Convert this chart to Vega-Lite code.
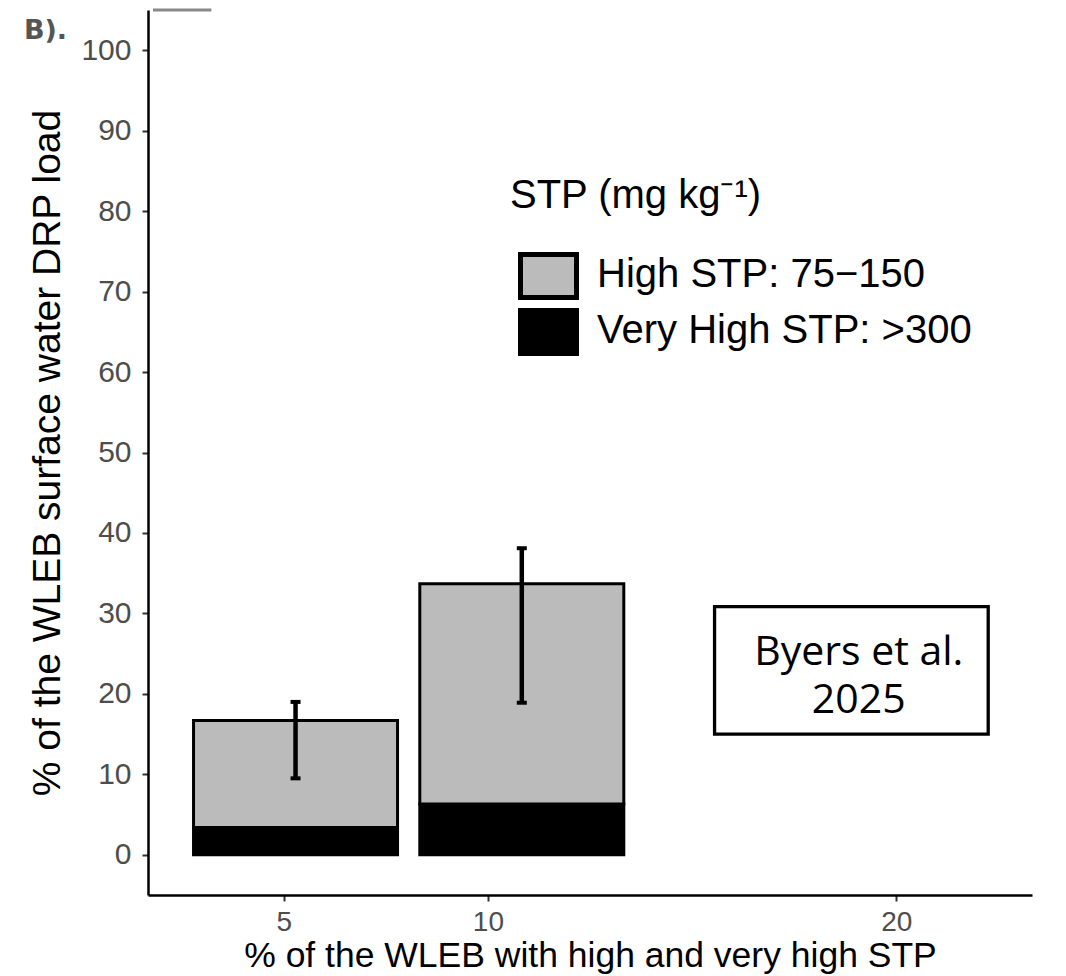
{
  "$schema": "https://vega.github.io/schema/vega-lite/v6.json",
  "width": 884,
  "height": 885,
  "autosize": {"type": "none"},
  "padding": {"left": 148, "top": 10, "right": 34, "bottom": 81},
  "background": "white",
  "config": {
    "view": {"stroke": null},
    "axis": {"grid": false, "domainColor": "black", "domainWidth": 2.5, "tickColor": "#333333", "tickWidth": 2, "tickSize": 6, "labelColor": "#4d4d4d", "labelFont": "Liberation Sans", "titleFont": "Liberation Sans", "titleColor": "black", "titleFontWeight": "normal"}
  },
  "datasets": {
    "bars": [
      {"pct": 5.29, "cls": "Very High STP: >300", "value": 3.4},
      {"pct": 5.29, "cls": "High STP: 75−150", "value": 13.3},
      {"pct": 10.83, "cls": "Very High STP: >300", "value": 6.3},
      {"pct": 10.83, "cls": "High STP: 75−150", "value": 27.4}
    ],
    "errs": [
      {"pct": 5.29, "lo": 9.5, "hi": 19.0},
      {"pct": 10.83, "lo": 18.9, "hi": 38.1}
    ],
    "box": [{"x1": 15.55, "x2": 22.25, "y1": 15.0, "y2": 30.85, "label": ["Byers et al.", "2025"], "tx": 19.08, "ty": 23.6}],
    "topline": [{"x1": 1.8, "x2": 3.23, "y": 105}],
    "panel": [{"t": "B).", "x": -1.36, "y": 101.4}]
  },
  "layer": [
    {
      "data": {"name": "bars"},
      "mark": {"type": "bar", "orient": "vertical", "size": 204, "stroke": "black", "strokeWidth": 3},
      "encoding": {
        "x": {"field": "pct", "type": "quantitative", "title": "% of the WLEB with high and very high STP", "scale": {"domain": [1.8, 23.2], "nice": false, "zero": false},
              "axis": {"values": [5, 10, 20], "title": "% of the WLEB with high and very high STP", "labelFontSize": 28, "titleFontSize": 35.5, "labelPadding": 7, "titlePadding": 2}},
        "y": {"field": "value", "type": "quantitative", "title": "% of the WLEB surface water DRP load", "stack": "zero", "scale": {"domain": [-5, 105], "nice": false, "zero": false},
              "axis": {"values": [0, 10, 20, 30, 40, 50, 60, 70, 80, 90, 100], "title": "% of the WLEB surface water DRP load", "labelFontSize": 30, "titleFontSize": 39, "labelPadding": 11, "titlePadding": 13}},
        "color": {"field": "cls", "type": "nominal",
                  "scale": {"domain": ["High STP: 75−150", "Very High STP: >300"], "range": ["#bbbbbb", "#000000"]},
                  "legend": {"orient": "none", "legendX": 362, "legendY": 166, "title": "STP (mg kg⁻¹)", "titleFontSize": 40, "titleFont": "Liberation Sans", "titleFontWeight": "normal", "titleColor": "black", "titlePadding": 36, "titleLimit": 1000,
                             "labelFontSize": 40, "labelFont": "Liberation Sans", "labelColor": "black", "labelLimit": 1000, "labelOffset": 42,
                             "symbolType": "M-0.6,-1H2.2V1.15H-0.6Z", "symbolSize": 1600, "symbolStrokeColor": "black", "symbolStrokeWidth": 5, "symbolOpacity": 1, "rowPadding": -20, "padding": 0}},
        "order": {"field": "cls", "sort": "descending"}
      }
    },
    {
      "data": {"name": "errs"},
      "mark": {"type": "rule", "color": "black", "strokeWidth": 4.5},
      "encoding": {
        "x": {"field": "pct", "type": "quantitative", "title": "% of the WLEB with high and very high STP"},
        "y": {"field": "lo", "type": "quantitative", "title": "% of the WLEB surface water DRP load"},
        "y2": {"field": "hi"}
      }
    },
    {
      "data": {"name": "errs"},
      "mark": {"type": "tick", "orient": "horizontal", "color": "black", "size": 10, "thickness": 4, "opacity": 1},
      "encoding": {
        "x": {"field": "pct", "type": "quantitative", "title": "% of the WLEB with high and very high STP"},
        "y": {"field": "lo", "type": "quantitative", "title": "% of the WLEB surface water DRP load"}
      }
    },
    {
      "data": {"name": "errs"},
      "mark": {"type": "tick", "orient": "horizontal", "color": "black", "size": 10, "thickness": 4, "opacity": 1},
      "encoding": {
        "x": {"field": "pct", "type": "quantitative", "title": "% of the WLEB with high and very high STP"},
        "y": {"field": "hi", "type": "quantitative", "title": "% of the WLEB surface water DRP load"}
      }
    },
    {
      "data": {"name": "box"},
      "mark": {"type": "rect", "fill": "white", "stroke": "black", "strokeWidth": 3.3},
      "encoding": {
        "x": {"field": "x1", "type": "quantitative", "title": "% of the WLEB with high and very high STP"},
        "x2": {"field": "x2"},
        "y": {"field": "y1", "type": "quantitative", "title": "% of the WLEB surface water DRP load"},
        "y2": {"field": "y2"}
      }
    },
    {
      "data": {"name": "box"},
      "mark": {"type": "text", "font": "Open Sans", "fontSize": 41, "align": "center", "baseline": "alphabetic", "lineHeight": 48, "color": "black"},
      "encoding": {
        "x": {"field": "tx", "type": "quantitative", "title": "% of the WLEB with high and very high STP"},
        "y": {"field": "ty", "type": "quantitative", "title": "% of the WLEB surface water DRP load"},
        "text": {"field": "label"}
      }
    },
    {
      "data": {"name": "topline"},
      "mark": {"type": "rule", "color": "#888888", "strokeWidth": 3},
      "encoding": {
        "x": {"field": "x1", "type": "quantitative", "title": "% of the WLEB with high and very high STP"},
        "x2": {"field": "x2"},
        "y": {"field": "y", "type": "quantitative", "title": "% of the WLEB surface water DRP load"}
      }
    },
    {
      "data": {"name": "panel"},
      "mark": {"type": "text", "font": "DejaVu Sans", "fontSize": 27, "fontWeight": "bold", "align": "left", "baseline": "alphabetic", "color": "#555555", "clip": false},
      "encoding": {
        "x": {"field": "x", "type": "quantitative", "title": "% of the WLEB with high and very high STP"},
        "y": {"field": "y", "type": "quantitative", "title": "% of the WLEB surface water DRP load"},
        "text": {"field": "t"}
      }
    }
  ]
}
